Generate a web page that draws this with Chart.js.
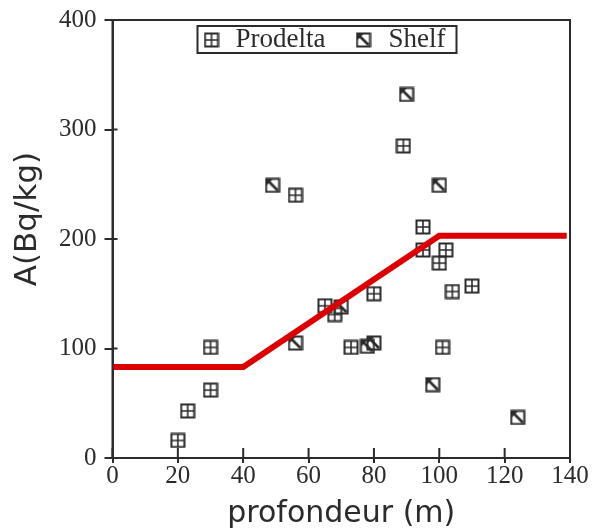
<!DOCTYPE html>
<html>
<head>
<meta charset="utf-8">
<script src="https://cdn.jsdelivr.net/npm/chart.js@4.4.1/dist/chart.umd.min.js"></script>
<style>
  html, body { margin: 0; padding: 0; background: #fff; }
  #wrap { width: 592px; height: 528px; }
</style>
</head>
<body>
<div id="wrap"><canvas id="graph" width="592" height="528"></canvas></div>
<script>
// données
const prodeltaX = [20, 23, 30, 30, 56, 65, 68, 73, 80, 89, 95, 95, 100, 101, 102, 104, 110];
const prodeltaY = [16, 43, 62, 101, 240, 139, 131, 101, 150, 285, 211, 190, 178, 101, 190, 152, 157];
const shelfX = [49, 56, 70, 78, 80, 90, 98, 100, 124];
const shelfY = [249, 105, 138, 102, 105, 332, 67, 249, 37];
const modeleX = [0, 40, 100, 139];
const modeleY = [83, 83, 203, 203];
const xTicks = [0, 20, 40, 60, 80, 100, 120, 140];
const yTicks = [0, 100, 200, 300, 400];

const ink = '#2b2b2b';
const serif = "'Liberation Serif', 'DejaVu Serif', serif";
const sans = "'DejaVu Sans', Verdana, sans-serif";

// symboles des points
function symboleProdelta() {
  const c = document.createElement('canvas');
  c.width = 16; c.height = 16;
  const g = c.getContext('2d');
  g.strokeStyle = ink;
  g.lineWidth = 2;
  g.strokeRect(1.5, 1.5, 13, 13);
  g.lineWidth = 1.6;
  g.beginPath();
  g.moveTo(8, 2); g.lineTo(8, 14);
  g.moveTo(2, 8); g.lineTo(14, 8);
  g.stroke();
  return c;
}
function symboleShelf() {
  const c = document.createElement('canvas');
  c.width = 16; c.height = 16;
  const g = c.getContext('2d');
  g.strokeStyle = ink;
  g.fillStyle = ink;
  g.lineWidth = 2;
  g.strokeRect(1.5, 1.5, 13, 13);
  g.lineWidth = 2.6;
  g.beginPath();
  g.moveTo(3, 3); g.lineTo(13, 13);
  g.stroke();
  g.beginPath();
  g.moveTo(2, 2); g.lineTo(8, 2); g.lineTo(2, 8);
  g.closePath();
  g.fill();
  return c;
}

const toPoints = (xs, ys) => xs.map((x, i) => ({ x: x, y: ys[i] }));

// cadre, graduations intérieures, titre vertical et légende encadrée
const cadre = {
  id: 'cadre',
  afterDraw(chart) {
    const ctx = chart.ctx;
    const a = chart.chartArea;
    const sx = chart.scales.x, sy = chart.scales.y;
    ctx.save();
    ctx.strokeStyle = ink;
    ctx.lineWidth = 2;
    ctx.strokeRect(a.left, a.top, a.right - a.left, a.bottom - a.top);
    ctx.beginPath();
    xTicks.forEach(v => {
      const px = sx.getPixelForValue(v);
      ctx.moveTo(px, a.bottom); ctx.lineTo(px, a.bottom - 10);
    });
    yTicks.forEach(v => {
      const py = sy.getPixelForValue(v);
      ctx.moveTo(a.left, py); ctx.lineTo(a.left + 5, py);
    });
    ctx.stroke();

    // titre de l'axe y (un peu au-dessus du centre, comme l'original)
    ctx.save();
    ctx.translate(28, (a.top + a.bottom) / 2 - 20);
    ctx.rotate(-Math.PI / 2);
    ctx.fillStyle = ink;
    ctx.font = '31px ' + sans;
    ctx.textAlign = 'center';
    ctx.textBaseline = 'middle';
    ctx.fillText('A(Bq/kg)', 0, 0);
    ctx.restore();

    // légende
    const bx = a.left + 85, by = a.top + 6, bw = 259, bh = 27;
    ctx.fillStyle = '#fff';
    ctx.fillRect(bx, by, bw, bh);
    ctx.lineWidth = 2;
    ctx.strokeRect(bx, by, bw, bh);
    ctx.fillStyle = ink;
    ctx.font = '27px ' + serif;
    ctx.textBaseline = 'alphabetic';
    const items = chart.data.datasets.filter(d => d.label !== 'modele');
    const offsets = [[6, 38], [158, 191]];
    items.forEach((d, i) => {
      ctx.drawImage(d.pointStyle, bx + offsets[i][0], by + 6);
      ctx.fillText(d.label, bx + offsets[i][1], by + 21);
    });
    ctx.restore();
  }
};

new Chart(document.getElementById('graph'), {
  type: 'scatter',
  data: {
    datasets: [
      {
        type: 'line',
        label: 'modele',
        data: toPoints(modeleX, modeleY),
        borderColor: '#dd0000',
        borderWidth: 6,
        pointRadius: 0,
        fill: false,
        order: 0
      },
      {
        label: 'Prodelta',
        data: toPoints(prodeltaX, prodeltaY),
        pointStyle: symboleProdelta(),
        order: 1
      },
      {
        label: 'Shelf',
        data: toPoints(shelfX, shelfY),
        pointStyle: symboleShelf(),
        order: 2
      }
    ]
  },
  options: {
    responsive: false,
    animation: false,
    layout: { padding: { top: 20, right: 22, left: 51, bottom: 0 } },
    plugins: {
      tooltip: { enabled: false },
      legend: { display: false }
    },
    scales: {
      x: {
        type: 'linear',
        min: 0,
        max: 140,
        afterBuildTicks: axis => { axis.ticks = xTicks.map(v => ({ value: v })); },
        afterFit: axis => { axis.paddingLeft = 0; axis.paddingRight = 0; },
        ticks: { color: ink, font: { family: serif, size: 25 }, padding: -2 },
        grid: { drawOnChartArea: false, tickLength: 5, color: ink, lineWidth: 2 },
        border: { color: ink, width: 2 },
        title: {
          display: true,
          text: 'profondeur (m)',
          color: ink,
          font: { family: sans, size: 30 },
          padding: { top: 7, bottom: -4 }
        }
      },
      y: {
        type: 'linear',
        min: 0,
        max: 400,
        afterBuildTicks: axis => { axis.ticks = yTicks.map(v => ({ value: v })); },
        afterFit: axis => { axis.paddingTop = 0; axis.paddingBottom = 0; },
        ticks: { color: ink, font: { family: serif, size: 25 }, padding: 8 },
        grid: { drawOnChartArea: false, tickLength: 8, color: ink, lineWidth: 2 },
        border: { color: ink, width: 2 }
      }
    }
  },
  plugins: [cadre]
});
</script>
</body>
</html>
